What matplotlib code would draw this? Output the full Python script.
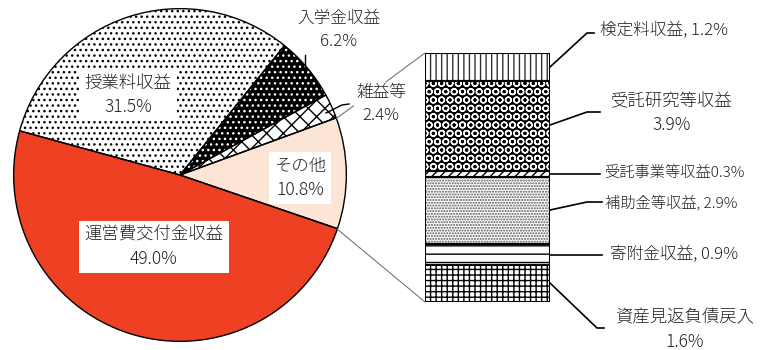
import numpy as np
import matplotlib
matplotlib.use("Agg")
import matplotlib.pyplot as plt
from matplotlib.patches import ConnectionPatch

plt.rcParams['font.family'] = ['Noto Sans CJK JP', 'DejaVu Sans']
plt.rcParams['hatch.linewidth'] = 1.0

# pie: main income items (counter-clockwise from the left boundary)
pie_labels = ['運営費交付金収益', 'その他', '雑益等', '入学金収益', '授業料収益']
pie_values = [49.0, 10.8, 2.4, 6.2, 31.5]
pie_faces = ['#EE4124', '#FDE5D6', 'white', 'black', 'white']
pie_hatch = [None, None, 'xx', '...', '...']
pie_hcol = ['black', 'black', 'black', 'white', 'black']

# breakdown of "その他" (top to bottom)
sub_labels = ['検定料収益', '受託研究等収益', '受託事業等収益', '補助金等収益', '寄附金収益', '資産見返負債戻入']
sub_values = [1.2, 3.9, 0.3, 2.9, 0.9, 1.6]
sub_texts = ['検定料収益, 1.2%', '受託研究等収益\n3.9%', '受託事業等収益0.3%',
             '補助金等収益, 2.9%', '寄附金収益, 0.9%', '資産見返負債戻入\n1.6%']
sub_faces = ['white', 'black', 'white', 'white', 'white', 'white']
sub_hatch = ['|||', 'OO', '////', '......', '--', '+++']
sub_hcol = ['#333333', 'white', 'black', '#555555', 'black', 'black']

W, H = 761, 350
fig = plt.figure(figsize=(W / 100, H / 100), dpi=100)

# pie axes, centre (180,175) r=168 px
cx, cy, r = 180, 175, 168
axp = fig.add_axes([(cx - r) / W, (H - cy - r) / H, 2 * r / W, 2 * r / H])
start = 164.6
wedges, _ = axp.pie(pie_values, startangle=start, counterclock=True,
                    colors=pie_faces, wedgeprops=dict(linewidth=0))
for w, h, hc in zip(wedges, pie_hatch, pie_hcol):
    if h:
        w.set_hatch(h)
        w.set_edgecolor(hc)
axp.pie(pie_values, startangle=start, counterclock=True,
        wedgeprops=dict(fill=False, edgecolor='black', linewidth=1.0))
axp.set_xlim(-1.01, 1.01)
axp.set_ylim(-1.01, 1.01)
axp.set_aspect('equal')
axp.axis('off')

# stacked bar axes
bx0, bx1, by0, by1 = 425, 550, 53, 302
axb = fig.add_axes([bx0 / W, (H - by1) / H, (bx1 - bx0) / W, (by1 - by0) / H])
bottom = 0
for v, fc, h, hc in zip(sub_values, sub_faces, sub_hatch, sub_hcol):
    axb.bar(0.5, v, width=1.0, bottom=bottom, facecolor=fc, hatch=h, edgecolor=hc, linewidth=0)
    axb.bar(0.5, v, width=1.0, bottom=bottom, fill=False, edgecolor='black', linewidth=1.5)
    bottom += v
axb.set_xlim(0, 1)
axb.set_ylim(sum(sub_values), 0)
axb.axis('off')

# connectors from "その他" wedge to the bar
cum = np.cumsum([0] + pie_values)
a_lo = np.deg2rad(start + 360 * cum[1] / 100)
a_hi = np.deg2rad(start + 360 * cum[2] / 100)
for ang, yb in [(a_hi, 0), (a_lo, sum(sub_values))]:
    con = ConnectionPatch(xyA=(np.cos(ang), np.sin(ang)), coordsA=axp.transData,
                          xyB=(0, yb), coordsB=axb.transData,
                          color='#777777', linewidth=0.8, zorder=1)
    fig.add_artist(con)

# overlay in pixel coordinates for labels
ov = fig.add_axes([0, 0, 1, 1], zorder=5)
ov.set_xlim(0, W)
ov.set_ylim(H, 0)
ov.axis('off')
ov.patch.set_alpha(0)

tc = '#222222'
fw = 'light'
box = dict(boxstyle='square,pad=0.3', facecolor='white', edgecolor='none')
ov.text(128, 95, f'{pie_labels[4]}\n{pie_values[4]}%', ha='center', va='center',
        fontsize=12.5, linespacing=1.45, bbox=box, color=tc, fontweight=fw)
ov.text(154, 247, f'{pie_labels[0]}\n{pie_values[0]}%', ha='center', va='center',
        fontsize=12.5, linespacing=1.45, bbox=box, color=tc, fontweight=fw)
ov.text(300, 178, f'{pie_labels[1]}\n{pie_values[1]}%', ha='center', va='center',
        fontsize=12.5, linespacing=1.45, bbox=box, color=tc, fontweight=fw)
ov.text(339, 30, f'{pie_labels[3]}\n{pie_values[3]}%', ha='center', va='center',
        fontsize=12, linespacing=1.45, color=tc, fontweight=fw)
ov.text(381, 104, f'{pie_labels[2]}\n{pie_values[2]}%', ha='center', va='center',
        fontsize=12, linespacing=1.45, color=tc, fontweight=fw,
        bbox=dict(boxstyle='square,pad=0.15', facecolor='white', edgecolor='none'))
ov.plot([305, 305], [55, 72], color='black', lw=1)
ov.plot([326, 342, 349], [113, 105, 104], color='black', lw=1)

# right labels and leaders
leaders = [
    [(550, 67), (587, 33), (594, 33)],
    [(550, 125), (587, 112), (600, 112)],
    [(550, 174), (600, 174)],
    [(550, 210), (587, 202), (602, 202)],
    [(550, 255), (602, 255)],
    [(550, 283), (597, 328), (604, 328)],
]
label_pos = [(600, 31, 'left'), (672, 113, 'center'), (604, 173, 'left'),
             (605, 203, 'left'), (610, 255, 'left'), (685, 330, 'center')]
label_fs = [12, 12.5, 11, 11, 12, 12.5]
for pts, (x, y, ha), t, fs in zip(leaders, label_pos, sub_texts, label_fs):
    xs, ys = zip(*pts)
    ov.plot(xs, ys, color='black', lw=1.2)
    ov.text(x, y, t, ha=ha, va='center', fontsize=fs, linespacing=1.45, color=tc,
            fontweight=fw)

fig.savefig('out.png', dpi=100)
